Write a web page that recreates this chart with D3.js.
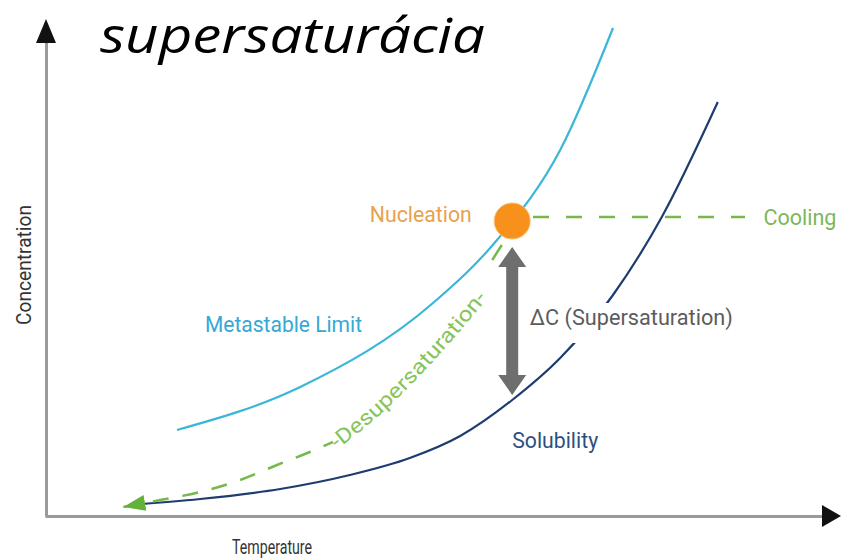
<!DOCTYPE html>
<html>
<head>
<meta charset="utf-8">
<script src="https://cdn.jsdelivr.net/npm/d3@7"></script>
<style>
  body { margin: 0; background: #fff; }
  svg { display: block; }
</style>
</head>
<body>
<svg id="chart" width="842" height="560"></svg>
<script>
// points, as [temperature, concentration] on a 0..100 scale
const metastable = [[16.5, 17.2], [31.9, 25.8], [48.5, 42.6], [56.5, 55.2], [64.4, 73.2], [71, 97.6]];
const solubility = [[10.4, 2.2], [19.4, 3.4], [29.4, 5.4], [38.1, 8.2], [45.6, 11.6], [51.9, 16],
  [58.4, 23.2], [64.4, 31.6], [71, 44.2], [77.1, 59.8], [84.1, 82.8]];
// desupersaturation path: dashed lower part (arrow at its start), text part, short tail dash
const desupDashed = [[9.8, 1.8], [14.4, 3.2], [19.4, 4.8], [24.4, 7.2], [29, 10.2], [33.1, 12.8], [36, 14.8]];
const desupText = [[36, 14.4], [41.9, 22.2], [47.5, 31.2], [51.9, 39.2], [55, 45.2]];
const desupTail = [[55.9, 51.2], [57.1, 54.2]];
const nucleation = [58.4, 59];
const cooling = [[61, 59.8], [87.5, 59.8]];
const deltaC = [[58.4, 53.8], [58.4, 24.2]];

const title = "supersaturácia";
const xLabel = "Temperature";
const yLabel = "Concentration";
const desupLabel = "-Desupersaturation-";
// [text, x, y, width, colour] with x/y on the same 0..100 scale
const labels = [
  ["Nucleation", 40.6, 58.8, 102, "#e9a24c"],
  ["Metastable Limit", 20, 36.8, 157, "#35a8d8"],
  ["Cooling", 89.8, 58.2, 73, "#7db65b"],
  ["ΔC (Supersaturation)", 60.6, 38.2, 203, "#5c5c5c"],
  ["Solubility", 58.4, 13.6, 86, "#2d4f7d"]
];

const svg = d3.select("#chart");
const x = d3.scaleLinear().domain([0, 100]).range([45, 845]);
const y = d3.scaleLinear().domain([0, 100]).range([516, 16]);

const line = d3.line()
  .curve(d3.curveMonotoneX)
  .x(d => x(d[0]))
  .y(d => y(d[1]));

const defs = svg.append("defs");
defs.append("marker")
  .attr("id", "greenHead")
  .attr("markerUnits", "userSpaceOnUse")
  .attr("markerWidth", 24).attr("markerHeight", 18)
  .attr("refX", 22).attr("refY", 8)
  .attr("orient", "auto-start-reverse")
  .append("path")
  .attr("d", "M0,0L22,8L0,16Z")
  .attr("fill", "#63b33a");

// axes (no ticks, just the lines) + arrowheads
const axisColor = "#9a9a9a";
const xAxisScale = x.copy().range([45, 826]);
const yAxisScale = y.copy().range([516, 40]);
svg.append("g")
  .attr("transform", "translate(0,516)")
  .call(d3.axisBottom(xAxisScale).tickValues([]).tickSizeOuter(0))
  .select(".domain").attr("stroke", axisColor).attr("stroke-width", 3);
svg.append("g")
  .attr("transform", "translate(46,0)")
  .call(d3.axisLeft(yAxisScale).tickValues([]).tickSizeOuter(0))
  .select(".domain").attr("stroke", axisColor).attr("stroke-width", 3);

svg.append("path")
  .attr("d", "M822,505L841,516L822,527Z")
  .attr("fill", "#111");
svg.append("path")
  .attr("d", "M36,43L46,19L56,43Z")
  .attr("fill", "#111");

const labelFont = "Roboto, 'Liberation Sans', sans-serif";

// axis titles
svg.append("text")
  .attr("x", 272).attr("y", 554)
  .attr("text-anchor", "middle")
  .attr("textLength", 80).attr("lengthAdjust", "spacingAndGlyphs")
  .style("font", "20px " + labelFont)
  .attr("fill", "#333")
  .text(xLabel);
svg.append("text")
  .attr("transform", "translate(31,265) rotate(-90)")
  .attr("text-anchor", "middle")
  .attr("textLength", 120).attr("lengthAdjust", "spacingAndGlyphs")
  .style("font", "21px " + labelFont)
  .attr("fill", "#333")
  .text(yLabel);

// title
svg.append("text")
  .attr("x", 100).attr("y", 53)
  .attr("textLength", 385).attr("lengthAdjust", "spacingAndGlyphs")
  .style("font", "italic 50px 'Open Sans', sans-serif")
  .attr("fill", "#000")
  .text(title);

// curves
svg.append("path")
  .attr("d", line(metastable))
  .attr("fill", "none")
  .attr("stroke", "#3ab6d8")
  .attr("stroke-width", 2.2);
svg.append("path")
  .attr("d", line(solubility))
  .attr("fill", "none")
  .attr("stroke", "#1f3c70")
  .attr("stroke-width", 2.2);

// cooling line
svg.append("path")
  .attr("d", d3.line().x(d => x(d[0])).y(d => y(d[1]))(cooling))
  .attr("fill", "none")
  .attr("stroke", "#76b84a")
  .attr("stroke-width", 2.5)
  .attr("stroke-dasharray", "16,17");

// desupersaturation
svg.append("path")
  .attr("d", line(desupDashed))
  .attr("fill", "none")
  .attr("stroke", "#76b84a")
  .attr("stroke-width", 2.5)
  .attr("stroke-dasharray", "16,14")
  .attr("marker-start", "url(#greenHead)");
svg.append("path")
  .attr("d", line(desupTail))
  .attr("fill", "none")
  .attr("stroke", "#76b84a")
  .attr("stroke-width", 2.5);
defs.append("path")
  .attr("id", "desupPath")
  .attr("d", line(desupText));
svg.append("text")
  .attr("dy", 7)
  .style("font", "21px " + labelFont)
  .attr("fill", "#86c45a")
  .append("textPath")
  .attr("href", "#desupPath")
  .attr("startOffset", 0)
  .attr("textLength", 212).attr("lengthAdjust", "spacingAndGlyphs")
  .text(desupLabel);

// labels (white box behind so the solubility curve breaks under the ΔC label)
labels.forEach(([txt, lx, ly, w, col]) => {
  if (txt.startsWith("ΔC")) {
    svg.append("rect")
      .attr("x", x(lx) - 3).attr("y", y(ly) - 22)
      .attr("width", w + 6).attr("height", 40)
      .attr("fill", "#fff");
  }
  svg.append("text")
    .attr("x", x(lx)).attr("y", y(ly))
    .attr("textLength", w).attr("lengthAdjust", "spacingAndGlyphs")
    .style("font", "22px " + labelFont)
    .attr("fill", col)
    .text(txt);
});

// ΔC double arrow
const ax = x(deltaC[0][0]);
const yTop = y(deltaC[0][1]);
const yBot = y(deltaC[1][1]);
const headH = 20, headW = 14, shaftW = 6;
const p = d3.path();
p.moveTo(ax, yTop);
p.lineTo(ax + headW, yTop + headH);
p.lineTo(ax + shaftW, yTop + headH);
p.lineTo(ax + shaftW, yBot - headH);
p.lineTo(ax + headW, yBot - headH);
p.lineTo(ax, yBot);
p.lineTo(ax - headW, yBot - headH);
p.lineTo(ax - shaftW, yBot - headH);
p.lineTo(ax - shaftW, yTop + headH);
p.lineTo(ax - headW, yTop + headH);
p.closePath();
svg.append("path")
  .attr("d", p.toString())
  .attr("fill", "#6e6e6e");

// nucleation point
svg.append("circle")
  .attr("cx", x(nucleation[0])).attr("cy", y(nucleation[1]))
  .attr("r", 18)
  .attr("fill", "#f7911c")
  .attr("stroke", "#f8c070")
  .attr("stroke-width", 1);
</script>
</body>
</html>
